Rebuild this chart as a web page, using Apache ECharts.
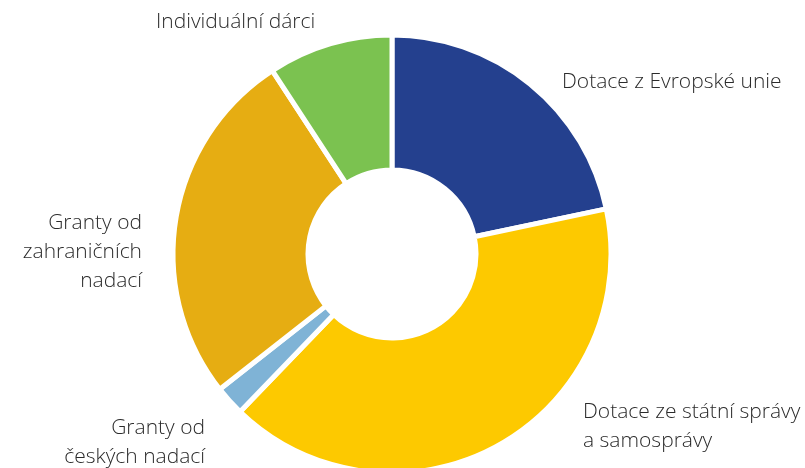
<!DOCTYPE html>
<html>
<head>
<meta charset="utf-8">
<script src="https://cdn.jsdelivr.net/npm/echarts@6/dist/echarts.min.js"></script>
<style>html,body{margin:0;padding:0;background:#fff}#c{width:805px;height:468px}</style>
</head>
<body>
<div id="c"></div>
<script>
var categories = ['Dotace z Evropské unie', 'Dotace ze státní správy\na samosprávy', 'Granty od\nčeských nadací', 'Granty od\nzahraničních\nnadací', 'Individuální dárci'];
var values = [21.7, 40.5, 2.2, 26.4, 9.2];
var colors = ['#24408e', '#fdc900', '#7fb3d6', '#e6ad12', '#7bc250'];

var labelPos = [
  {x: 562, y: 82, align: 'left'},
  {x: 583, y: 427, align: 'left'},
  {x: 205, y: 443, align: 'right'},
  {x: 142, y: 252, align: 'right'},
  {x: 156, y: 22, align: 'left'}
];

var chart = echarts.init(document.getElementById('c'));
chart.setOption({
  animation: false,
  series: [{
    type: 'pie',
    center: [392, 254],
    radius: [84, 219],
    startAngle: 90,
    clockwise: true,
    avoidLabelOverlap: false,
    itemStyle: {borderColor: '#fff', borderWidth: 5},
    label: {
      show: true,
      position: 'outside',
      color: '#2b2b2b',
      fontFamily: 'Open Sans',
      fontWeight: 300,
      fontSize: 21,
      lineHeight: 29
    },
    labelLine: {show: false},
    labelLayout: function (p) {
      var lp = labelPos[p.dataIndex];
      return {x: lp.x, y: lp.y, align: lp.align, verticalAlign: 'middle'};
    },
    data: categories.map(function (c, i) {
      return {name: c, value: values[i], itemStyle: {color: colors[i]}, label: {align: labelPos[i].align}};
    })
  }]
});
</script>
</body>
</html>
